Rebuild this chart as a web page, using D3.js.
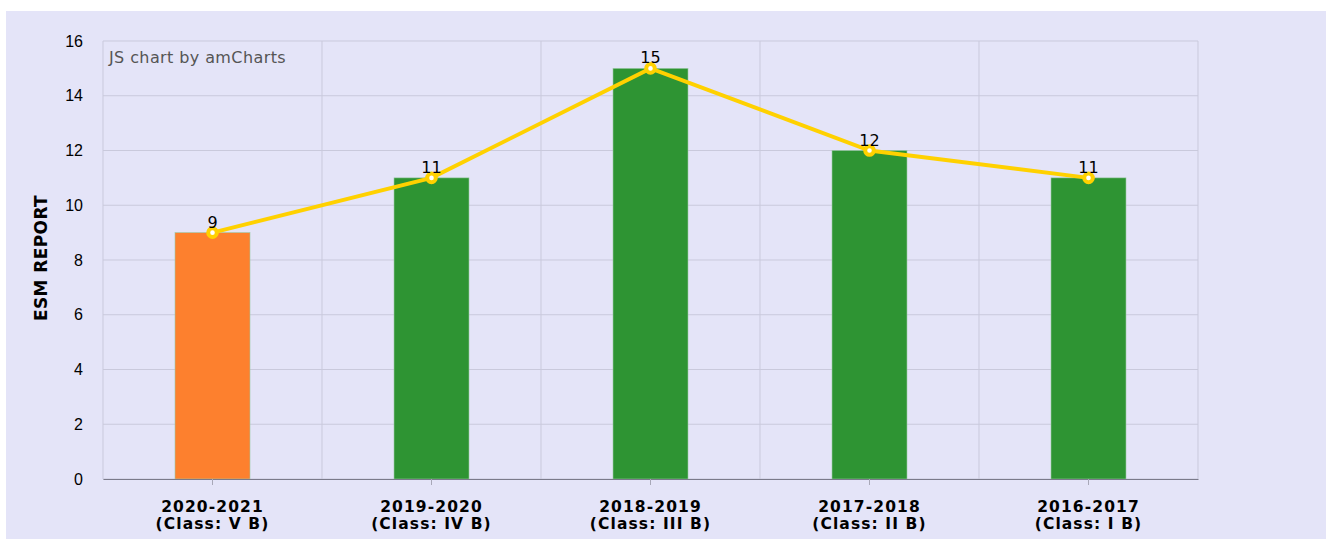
<!DOCTYPE html>
<html>
<head>
  <meta charset="utf-8">
  <title>ESM Report</title>
  <script src="https://d3js.org/d3.v7.min.js"></script>
  <style>
    body { margin: 0; padding: 0; background: #ffffff; }
    svg { font-family: "DejaVu Sans", Verdana, sans-serif; display: block; }
    .grid line { stroke: #c9c9dc; stroke-width: 1px; }
    .tick text { fill: #000; }
  </style>
</head>
<body>
<div id="chart"></div>
<script>
  // chart data
  var years = ["2020-2021", "2019-2020", "2018-2019", "2017-2018", "2016-2017"];
  var classes = ["(Class: V B)", "(Class: IV B)", "(Class: III B)", "(Class: II B)", "(Class: I B)"];
  var values = [9, 11, 15, 12, 11];
  var barColors = ["#fd802e", "#2e9433", "#2e9433", "#2e9433", "#2e9433"];
  var yTicks = [0, 2, 4, 6, 8, 10, 12, 14, 16];

  var width = 1326, height = 539;
  var margin = { top: 41, right: 128, bottom: 60, left: 103 };
  var innerW = width - margin.left - margin.right,
      innerH = height - margin.top - margin.bottom;

  var svg = d3.select("#chart").append("svg")
      .attr("width", width)
      .attr("height", height);

  // lavender background
  svg.append("rect")
    .attr("x", 6).attr("y", 11)
    .attr("width", width - 6).attr("height", height - 11)
    .attr("fill", "#e4e4f8");

  var g = svg.append("g")
    .attr("transform", "translate(" + margin.left + "," + margin.top + ")");

  var x = d3.scaleBand().domain(years).range([0, innerW]).padding(0);
  var y = d3.scaleLinear().domain([0, 16]).range([innerH, 0]);

  // horizontal grid
  g.append("g").attr("class", "grid")
    .selectAll("line").data(yTicks).enter().append("line")
      .attr("x1", 0).attr("x2", innerW)
      .attr("y1", function(d) { return y(d); })
      .attr("y2", function(d) { return y(d); });

  // vertical grid at band edges
  var edges = years.map(function(d) { return x(d); }).concat([innerW]);
  g.append("g").attr("class", "grid")
    .selectAll("line").data(edges).enter().append("line")
      .attr("x1", function(d) { return d; }).attr("x2", function(d) { return d; })
      .attr("y1", 0).attr("y2", innerH);

  // watermark
  g.append("text")
    .attr("x", 6).attr("y", 22)
    .attr("font-size", 16).attr("letter-spacing", 0.4).attr("fill", "#555")
    .text("JS chart by amCharts");

  // y axis
  var yAxis = g.append("g")
    .call(d3.axisLeft(y).tickValues(yTicks).tickSize(0).tickPadding(20));
  yAxis.select(".domain").remove();
  yAxis.selectAll("text").attr("font-size", 16).attr("dy", "0.32em");

  // bars
  var bw = 75;
  g.selectAll(".bar").data(values).enter().append("rect")
    .attr("class", "bar")
    .attr("x", function(d, i) { return x(years[i]) + x.bandwidth() / 2 - bw / 2; })
    .attr("y", function(d) { return y(d); })
    .attr("width", bw)
    .attr("height", function(d) { return innerH - y(d); })
    .attr("fill", function(d, i) { return barColors[i]; })
    .attr("stroke", "#9cc9a6").attr("stroke-width", 0.6);

  // x axis
  var xAxis = g.append("g")
    .attr("transform", "translate(0," + innerH + ")")
    .call(d3.axisBottom(x).tickSizeInner(6).tickSizeOuter(0).tickFormat(""));
  xAxis.select(".domain").attr("stroke", "#7a7a8a").attr("stroke-width", 1.2);
  xAxis.selectAll(".tick line").attr("stroke", "#a8a8b8");

  // two-line category labels
  var cx = function(d) { return x(d) + x.bandwidth() / 2; };
  g.append("g").selectAll("text").data(years).enter().append("text")
    .attr("x", cx).attr("y", innerH + 33)
    .attr("text-anchor", "middle")
    .attr("font-size", 15.5).attr("letter-spacing", 1.1).attr("font-weight", "bold")
    .text(function(d) { return d; });
  g.append("g").selectAll("text").data(years).enter().append("text")
    .attr("x", cx).attr("y", innerH + 50)
    .attr("text-anchor", "middle")
    .attr("font-size", 15.5).attr("letter-spacing", 1.1).attr("font-weight", "bold")
    .text(function(d, i) { return classes[i]; });

  // y axis title
  svg.append("text")
    .attr("transform", "translate(47," + (margin.top + innerH / 2 - 2) + ") rotate(-90)")
    .attr("text-anchor", "middle")
    .attr("font-size", 17).attr("letter-spacing", 0.4).attr("font-weight", "bold")
    .text("ESM REPORT");

  // line
  var line = d3.line()
    .x(function(d, i) { return cx(years[i]); })
    .y(function(d) { return y(d); });

  g.append("path").datum(values)
    .attr("d", line)
    .attr("fill", "none")
    .attr("stroke", "#ffd100")
    .attr("stroke-width", 4);

  g.selectAll(".bullet").data(values).enter().append("circle")
    .attr("cx", function(d, i) { return cx(years[i]); })
    .attr("cy", function(d) { return y(d); })
    .attr("r", 4.3)
    .attr("fill", "#ffffff")
    .attr("stroke", "#ffd100").attr("stroke-width", 4);

  g.selectAll(".vlabel").data(values).enter().append("text")
    .attr("x", function(d, i) { return cx(years[i]); })
    .attr("y", function(d) { return y(d) - 5; })
    .attr("text-anchor", "middle")
    .attr("font-size", 16).attr("fill", "#000")
    .text(function(d) { return d; });
</script>
</body>
</html>
